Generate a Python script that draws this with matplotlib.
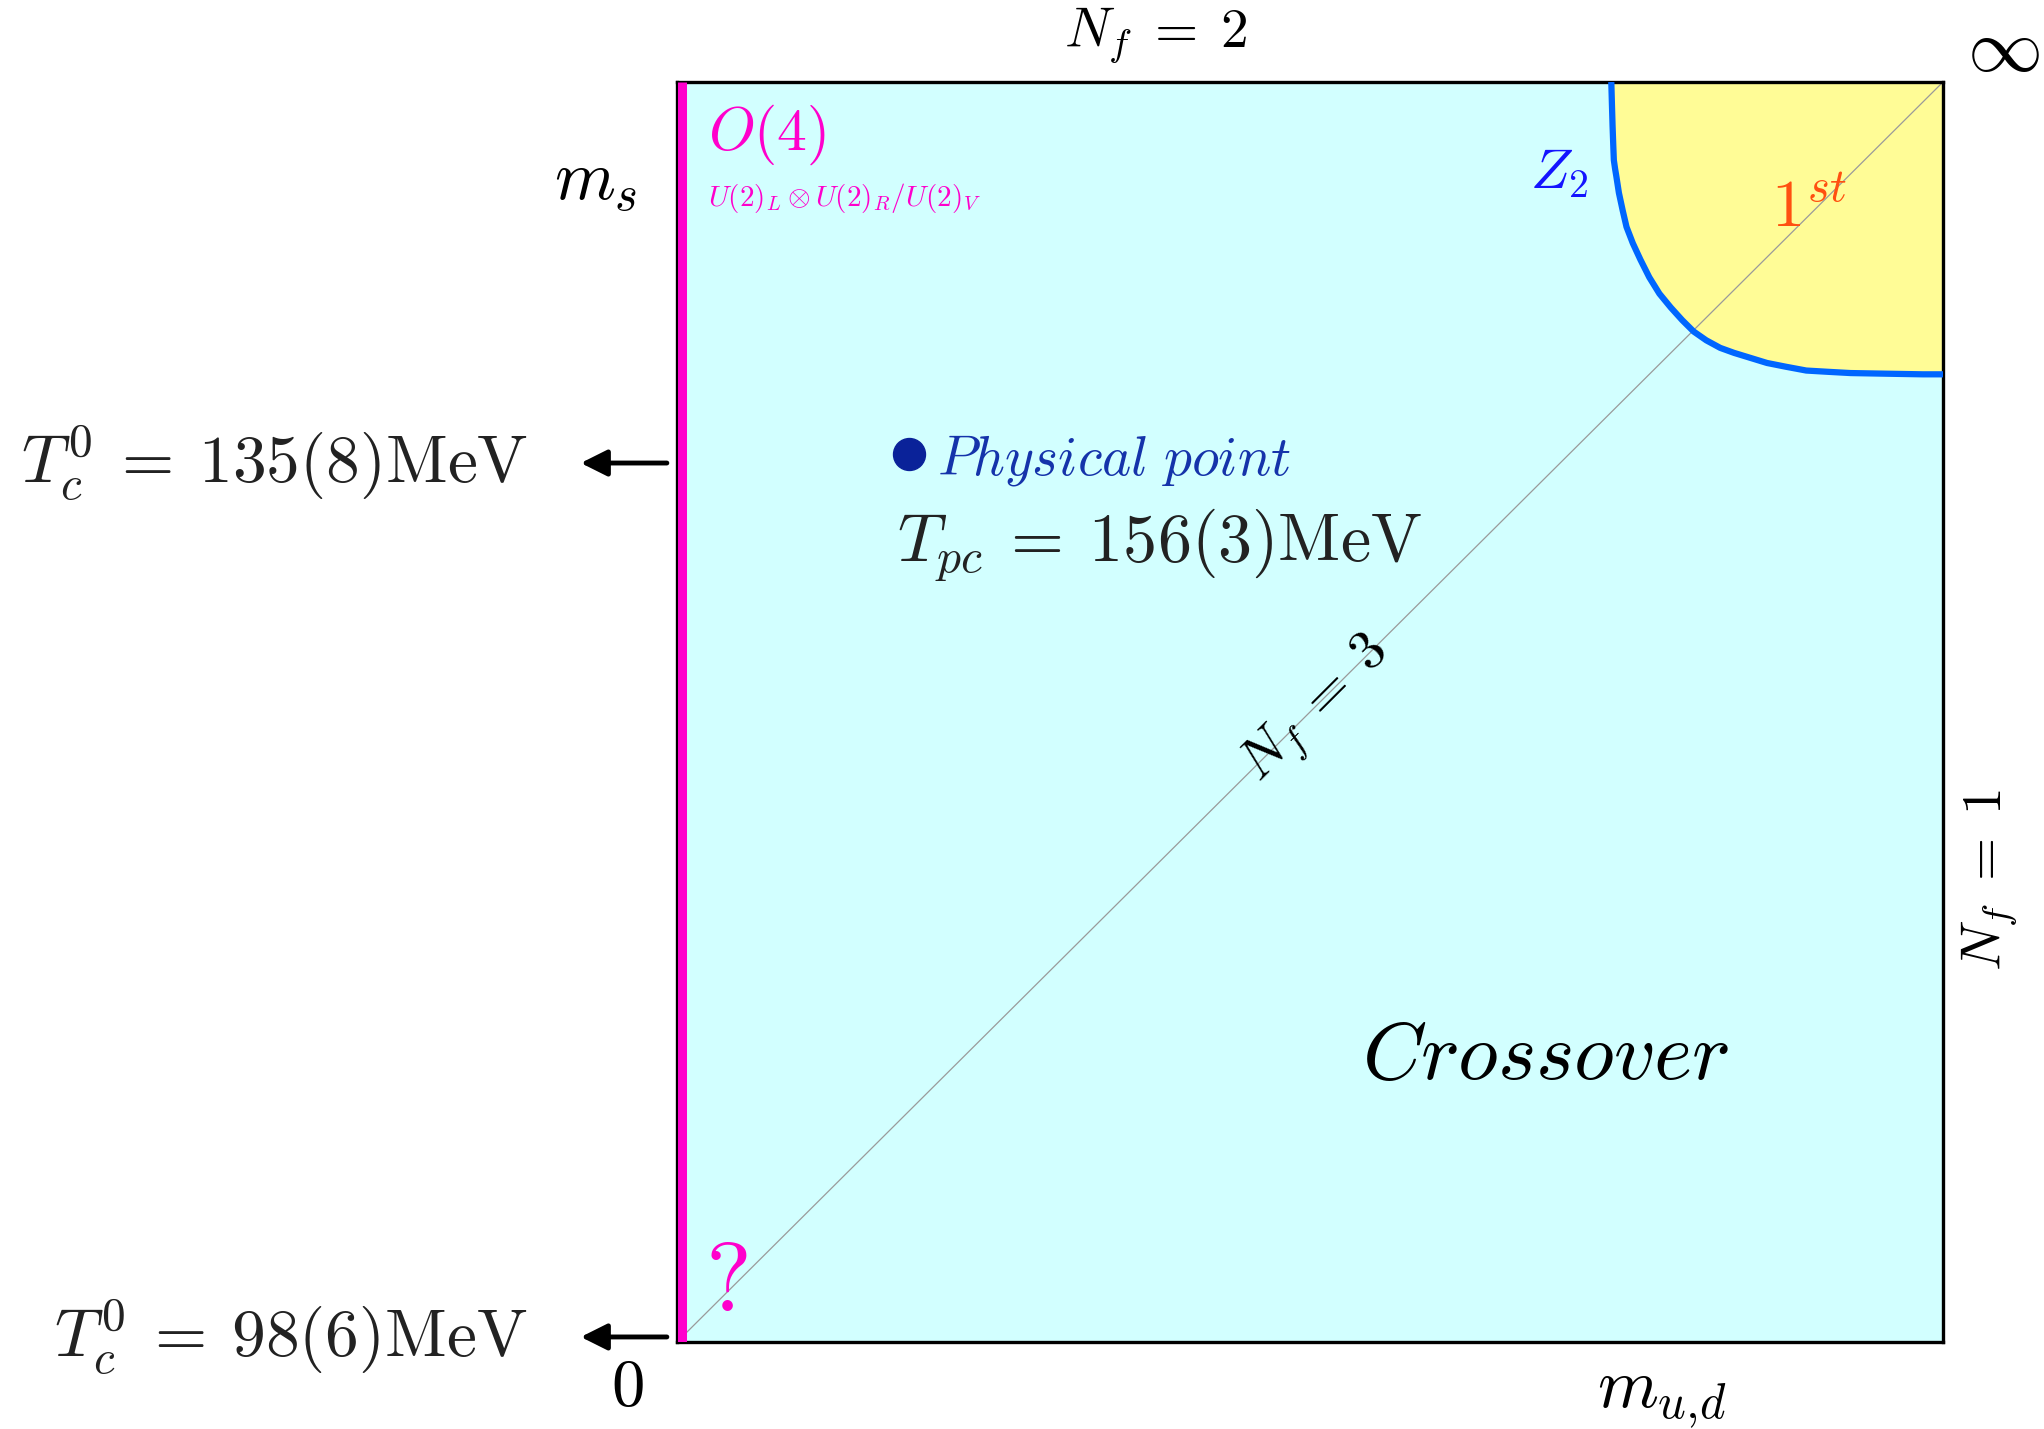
import numpy as np
import matplotlib
matplotlib.use('Agg')
import matplotlib.pyplot as plt

plt.rcParams['mathtext.fontset'] = 'cm'
plt.rcParams['font.family'] = 'DejaVu Serif'

# Z2 critical line (m_ud, m_s in units of the box)
z2_x = [0.738, 0.7385, 0.739, 0.7395, 0.740, 0.741, 0.742, 0.743, 0.744, 0.7455,
        0.747, 0.7485, 0.750, 0.7525, 0.755, 0.758, 0.761, 0.7645, 0.768, 0.772,
        0.776, 0.7805, 0.785, 0.7895, 0.794, 0.7985, 0.803, 0.808, 0.813, 0.8185,
        0.824, 0.8295, 0.835, 0.848, 0.861, 0.876, 0.892, 0.909, 0.927, 0.955,
        0.984, 1.000]
z2_y = [1.000, 0.982, 0.965, 0.951, 0.938, 0.931, 0.925, 0.9185, 0.912, 0.905,
        0.898, 0.8915, 0.885, 0.8785, 0.872, 0.8655, 0.859, 0.852, 0.845, 0.8385,
        0.832, 0.8265, 0.821, 0.816, 0.811, 0.8065, 0.802, 0.7985, 0.795, 0.792,
        0.789, 0.787, 0.785, 0.781, 0.777, 0.774, 0.771, 0.770, 0.769, 0.7685,
        0.768, 0.768]

# physical point
phys_x = [0.183]
phys_y = [0.705]

# labels
tc_labels = [r'$T_c^0 \:=\: 135(8)\mathrm{MeV}$', r'$T_c^0 \:=\: 98(6)\mathrm{MeV}$']
tc_ypos = [0.6976, 0.004]
tpc_label = r'$T_{pc} \:=\: 156(3)\mathrm{MeV}$'

cyan = '#d2ffff'
yellow = '#fffc96'
blue_line = '#0066ff'
magenta = '#ff00cc'
dark = '#222222'

fig = plt.figure(figsize=(20.44, 14.29), dpi=100)
ax = fig.add_axes([677 / 2044, 1 - 1342 / 1429, 1266 / 2044, 1260 / 1429])
ax.set_xlim(0, 1)
ax.set_ylim(0, 1)
ax.set_facecolor(cyan)
ax.set_xticks([])
ax.set_yticks([])
for s in ax.spines.values():
    s.set_linewidth(2.4)
    s.set_color('black')

# first order region
fx = list(z2_x) + [1.0]
fy = list(z2_y) + [1.0]
ax.fill(fx, fy, color=yellow, zorder=1, lw=0)

# Nf = 3 diagonal
ax.plot([0, 1], [0, 1], color='#9a9a9a', lw=0.9, zorder=2)

# Z2 line
ax.plot(z2_x, z2_y, color=blue_line, lw=4.5, zorder=3, solid_capstyle='butt',
        solid_joinstyle='round')

# O(4) line at m_ud = 0
ax.plot([0.004, 0.004], [0, 1], color=magenta, lw=6.5, zorder=4, solid_capstyle='butt')

# physical point
ax.plot(phys_x, phys_y, 'o', color='#0a2299', ms=23, zorder=5)

kw = dict(transform=ax.transAxes, clip_on=False)
ax.text(0.378, 1.037, r'$N_f \;=\; 2$', fontsize=40, ha='center', va='center', color='black', **kw)
ax.text(1.048, 1.025, r'$\infty$', fontsize=54, ha='center', va='center', color='black', **kw)
ax.text(-0.064, 0.921, r'$m_s$', fontsize=50, ha='center', va='center', color='black', **kw)
ax.text(0.0245, 0.958, r'$O(4)$', fontsize=43, ha='left', va='center', color=magenta, **kw)
ax.text(0.0245, 0.908, r'$U(2)_L \otimes U(2)_R/U(2)_V$', fontsize=21, ha='left', va='center',
        color=magenta, **kw)
ax.text(0.697, 0.928, r'$Z_2$', fontsize=41, ha='center', va='center', color='#1414ff', **kw)
ax.text(0.894, 0.900, r'$1^{st}$', fontsize=48, ha='center', va='center', color='#ff5010', **kw)
ax.text(0.686, 0.227, r'$Crossover$', fontsize=59, ha='center', va='center', color='black', **kw)
ax.text(0.205, 0.700, r'$Physical\ point$', fontsize=40, ha='left', va='center', color='#1533aa', **kw)
ax.text(0.174, 0.632, tpc_label, fontsize=49, ha='left', va='center', color=dark, **kw)
ax.text(0.505, 0.502, r'$N_f \;=\; 3$', fontsize=40, ha='center', va='center', rotation=45,
        color='black', **kw)
ax.text(0.0387, 0.046, r'$?$', fontsize=70, ha='center', va='center', color=magenta, **kw)
ax.text(-0.0395, -0.036, r'$0$', fontsize=48, ha='center', va='center', color='black', **kw)
ax.text(0.778, -0.044, r'$m_{u{,}d}$', fontsize=50, ha='center', va='center', color='black', **kw)
ax.text(1.037, 0.367, r'$N_f \;=\; 1$', fontsize=40, ha='center', va='center', rotation=90,
        color='black', **kw)

for lab, yp in zip(tc_labels, tc_ypos):
    ax.text(-0.118, yp, lab, fontsize=48.5, ha='right', va='center', color=dark, **kw)
    ax.annotate('', xy=(-0.076, yp), xytext=(-0.008, yp), xycoords='axes fraction',
                textcoords='axes fraction',
                arrowprops=dict(arrowstyle='-|>', color='black', lw=3.5,
                                mutation_scale=40, shrinkA=0, shrinkB=0))

fig.savefig('out.png', dpi=100)
